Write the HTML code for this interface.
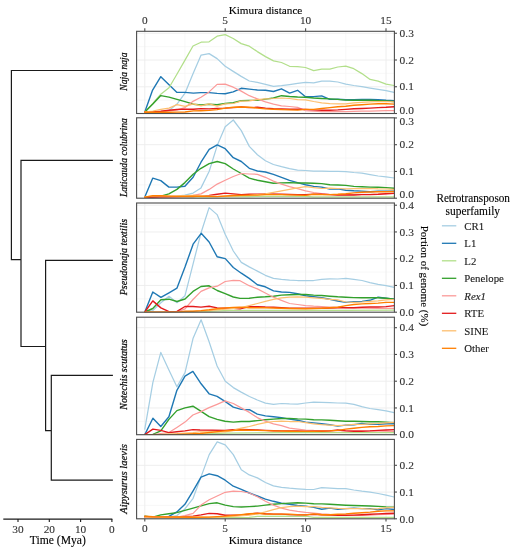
<!DOCTYPE html><html><head><meta charset="utf-8"><style>html,body{margin:0;padding:0;background:#fff;width:516px;height:550px;overflow:hidden}svg{display:block;will-change:transform}</style></head><body><svg width="516" height="550" viewBox="0 0 516 550"><defs><clipPath id="c0"><rect x="136.6" y="31.3" width="257.79999999999995" height="82.2"/></clipPath><clipPath id="c1"><rect x="136.6" y="117.8" width="257.79999999999995" height="80.39999999999999"/></clipPath><clipPath id="c2"><rect x="136.6" y="203.0" width="257.79999999999995" height="109.19999999999999"/></clipPath><clipPath id="c3"><rect x="136.6" y="317.2" width="257.79999999999995" height="117.5"/></clipPath><clipPath id="c4"><rect x="136.6" y="439.4" width="257.79999999999995" height="79.39999999999998"/></clipPath></defs><rect width="516" height="550" fill="#fff"/><path d="M185.00 31.3V113.5M265.40 31.3V113.5M345.80 31.3V113.5M136.6 100.12H394.4M136.6 73.38H394.4M136.6 46.62H394.4" stroke="#f4f4f4" stroke-width="0.6" fill="none"/><path d="M144.80 31.3V113.5M225.20 31.3V113.5M305.60 31.3V113.5M386.00 31.3V113.5M136.6 113.50H394.4M136.6 86.75H394.4M136.6 60.00H394.4M136.6 33.25H394.4" stroke="#ececec" stroke-width="0.9" fill="none"/><g clip-path="url(#c0)" fill="none" stroke-width="1.25" stroke-linejoin="round" stroke-linecap="round"><polyline points="144.8,112.0 152.8,112.0 160.8,111.7 169.0,110.5 177.0,104.1 185.0,93.2 193.0,73.7 201.1,55.1 209.1,53.6 217.1,58.6 225.2,66.3 233.2,71.4 241.2,76.4 249.3,81.0 257.3,82.3 265.5,84.4 273.5,86.4 281.5,85.7 289.6,84.6 297.6,83.4 305.5,82.3 313.7,82.8 321.7,81.1 329.8,81.1 337.8,82.0 345.8,84.1 353.8,85.5 361.9,86.7 370.1,88.1 378.1,89.3 386.1,90.7 394.1,92.3" stroke="#a6cee3" stroke-width="1.25"/><polyline points="144.8,112.0 152.6,90.1 160.8,76.7 177.0,92.4 185.0,92.4 193.4,93.1 201.0,92.6 209.1,92.6 217.1,93.4 225.2,93.7 233.2,91.9 241.2,88.3 249.3,89.1 257.3,90.0 265.5,90.3 273.5,91.5 281.5,88.8 289.6,93.1 297.6,90.3 305.5,96.8 313.7,96.6 321.7,95.9 329.8,99.4 337.8,99.2 345.8,99.8 353.8,99.8 361.9,99.4 370.1,99.4 378.1,99.8 386.1,100.3 394.1,100.6" stroke="#1f78b4" stroke-width="1.4"/><polyline points="144.8,112.0 152.8,103.5 160.8,94.2 169.0,87.8 176.9,74.3 185.0,60.1 193.0,46.0 201.1,42.2 209.1,41.8 217.1,36.2 225.2,34.6 233.2,38.5 241.2,43.6 249.3,46.2 257.3,51.6 265.5,56.6 273.5,60.9 281.5,62.5 289.6,66.3 297.6,66.6 305.5,67.5 313.7,70.6 321.7,69.2 329.8,69.2 337.8,67.0 345.8,66.1 353.8,68.7 361.9,73.6 370.1,79.4 378.1,81.1 386.1,84.1 394.1,85.5" stroke="#b2df8a" stroke-width="1.25"/><polyline points="144.8,112.0 152.8,104.1 160.8,95.6 169.0,97.1 177.0,99.4 185.0,101.7 193.4,104.2 201.0,105.0 209.1,104.2 217.1,104.7 225.2,103.5 233.2,102.7 241.2,100.8 249.3,100.4 257.3,100.4 265.5,99.1 273.5,98.0 281.5,95.7 289.6,96.5 297.6,97.0 305.5,97.2 313.7,98.0 321.7,98.5 329.8,98.9 337.8,99.4 345.8,100.1 353.8,100.3 361.9,100.3 370.1,100.3 378.1,100.6 386.1,101.0 394.1,101.5" stroke="#33a02c" stroke-width="1.4"/><polyline points="144.8,112.0 152.8,112.0 160.8,112.0 169.0,111.0 177.0,109.9 185.0,107.6 193.4,101.1 201.0,97.3 209.1,91.9 217.1,84.4 225.2,84.1 233.2,87.2 241.2,91.1 249.3,95.7 257.3,98.8 265.5,101.9 273.5,104.2 281.5,105.8 289.6,106.5 297.6,107.3 305.5,110.6 313.7,111.1 321.7,111.6 329.8,111.6 337.8,111.6 345.8,111.6 353.8,111.3 361.9,111.1 370.1,111.1 378.1,110.8 386.1,110.6 394.1,110.6" stroke="#fb9a99" stroke-width="1.25"/><polyline points="144.8,112.0 152.8,112.0 160.8,111.3 169.0,110.2 177.0,109.5 185.0,109.1 193.4,109.2 201.0,108.6 209.1,108.9 217.1,108.4 225.2,108.1 233.2,107.6 241.2,107.0 249.3,107.6 257.3,107.3 265.5,108.1 273.5,108.6 281.5,108.9 289.6,109.2 297.6,109.3 305.5,109.4 313.7,109.9 321.7,110.2 329.8,110.2 337.8,109.9 345.8,109.4 353.8,108.8 361.9,108.5 370.1,108.1 378.1,107.6 386.1,107.3 394.1,106.7" stroke="#e31a1c" stroke-width="1.4"/><polyline points="144.8,112.0 152.8,111.0 160.8,109.3 169.0,108.1 177.0,104.7 185.0,106.4 193.4,103.9 201.0,105.8 209.1,103.9 217.1,106.1 225.2,103.9 233.2,103.5 241.2,101.1 249.3,100.8 257.3,99.6 265.5,98.8 273.5,98.5 281.5,98.0 289.6,98.5 297.6,99.6 305.5,99.8 313.7,101.5 321.7,102.9 329.8,103.6 337.8,103.8 345.8,103.8 353.8,102.9 361.9,102.4 370.1,101.9 378.1,101.5 386.1,101.5 394.1,101.9" stroke="#fdbf6f" stroke-width="1.25"/><polyline points="144.8,112.2 152.8,112.2 160.8,112.2 169.0,112.2 177.0,112.1 185.0,112.0 193.4,110.9 201.0,110.7 209.1,110.4 217.1,109.6 225.2,108.1 233.2,107.3 241.2,107.0 249.3,107.3 257.3,108.1 265.5,108.9 273.5,109.3 281.5,109.6 289.6,109.9 297.6,110.1 305.5,109.4 313.7,109.4 321.7,108.5 329.8,107.6 337.8,106.7 345.8,106.2 353.8,105.3 361.9,104.7 370.1,104.1 378.1,103.8 386.1,103.8 394.1,104.1" stroke="#ff7f00" stroke-width="1.4"/></g><rect x="136.6" y="31.3" width="257.80" height="82.20" fill="none" stroke="#4d4d4d" stroke-width="1.1"/><path d="M394.4 113.50H397.0" stroke="#4d4d4d" stroke-width="1.1"/><text x="399.6" y="113.70" font-family="Liberation Serif" font-size="11.4" fill="#333" stroke="#333" stroke-width="0.12">0.0</text><path d="M394.4 86.75H397.0" stroke="#4d4d4d" stroke-width="1.1"/><text x="399.6" y="90.45" font-family="Liberation Serif" font-size="11.4" fill="#333" stroke="#333" stroke-width="0.12">0.1</text><path d="M394.4 60.00H397.0" stroke="#4d4d4d" stroke-width="1.1"/><text x="399.6" y="63.70" font-family="Liberation Serif" font-size="11.4" fill="#333" stroke="#333" stroke-width="0.12">0.2</text><path d="M394.4 33.25H397.0" stroke="#4d4d4d" stroke-width="1.1"/><text x="399.6" y="36.95" font-family="Liberation Serif" font-size="11.4" fill="#333" stroke="#333" stroke-width="0.12">0.3</text><text transform="translate(126.6 71.60) rotate(-90)" text-anchor="middle" font-family="Liberation Serif" font-style="italic" font-size="10.2" fill="#111" stroke="#111" stroke-width="0.25" textLength="38.2" lengthAdjust="spacingAndGlyphs">Naja naja</text><path d="M185.00 117.8V198.2M265.40 117.8V198.2M345.80 117.8V198.2M136.6 184.82H394.4M136.6 158.07H394.4M136.6 131.32H394.4" stroke="#f4f4f4" stroke-width="0.6" fill="none"/><path d="M144.80 117.8V198.2M225.20 117.8V198.2M305.60 117.8V198.2M386.00 117.8V198.2M136.6 198.20H394.4M136.6 171.45H394.4M136.6 144.70H394.4M136.6 117.95H394.4" stroke="#ececec" stroke-width="0.9" fill="none"/><g clip-path="url(#c1)" fill="none" stroke-width="1.25" stroke-linejoin="round" stroke-linecap="round"><polyline points="144.8,197.2 160.8,197.2 168.9,196.9 176.9,196.1 184.9,195.1 193.1,193.1 201.0,187.9 209.2,171.3 217.2,145.6 225.2,126.8 233.3,120.0 241.3,130.6 249.3,146.4 257.4,154.7 265.4,160.7 273.4,164.5 281.5,166.7 289.5,168.6 297.5,170.1 305.6,170.5 313.7,171.1 321.7,171.1 329.8,171.4 337.8,171.4 345.8,171.6 353.8,172.5 361.9,173.2 370.1,174.6 378.1,176.0 386.1,176.8 394.1,178.0" stroke="#a6cee3" stroke-width="1.25"/><polyline points="144.8,196.9 152.8,178.1 160.8,180.6 168.9,187.1 176.9,187.1 184.9,186.3 193.1,177.3 201.0,162.2 209.2,149.4 217.2,144.9 225.2,148.7 233.3,157.7 241.3,161.5 249.3,168.3 257.4,171.0 265.4,172.0 273.4,174.3 281.5,177.3 289.5,180.3 297.5,182.6 305.6,184.8 313.7,186.4 321.7,187.1 329.8,189.0 337.8,188.9 345.8,190.3 353.8,190.8 361.9,191.1 370.1,191.7 378.1,191.1 386.1,191.1 394.1,191.1" stroke="#1f78b4" stroke-width="1.4"/><polyline points="144.8,197.2 193.1,196.9 225.2,196.7 249.3,196.6 257.4,196.4 305.6,196.4 313.7,196.9 394.1,196.9" stroke="#b2df8a" stroke-width="1.25"/><polyline points="144.8,196.9 152.8,197.7 160.8,196.1 168.9,193.9 176.9,189.4 184.9,182.6 193.1,174.3 201.0,168.3 209.2,163.7 217.2,161.5 225.2,163.7 233.3,169.0 241.3,173.5 249.3,178.1 257.4,180.3 265.4,181.8 273.4,183.3 281.5,182.9 289.5,182.6 297.5,183.0 305.6,183.0 313.7,183.3 321.7,183.6 329.8,184.7 337.8,185.0 345.8,185.4 353.8,186.4 361.9,186.8 370.1,187.1 378.1,187.3 386.1,187.6 394.1,188.2" stroke="#33a02c" stroke-width="1.4"/><polyline points="144.8,197.2 176.9,196.9 184.9,196.1 193.1,195.4 201.0,193.9 209.2,189.4 217.2,184.1 225.2,180.3 233.3,176.5 241.3,173.5 249.3,174.0 257.4,174.3 265.4,177.3 273.4,181.1 281.5,184.1 289.5,186.6 297.5,188.6 305.6,190.9 313.7,192.5 321.7,193.7 329.8,194.3 337.8,194.6 345.8,194.6 353.8,194.6 361.9,194.3 370.1,194.3 378.1,194.3 386.1,193.7 394.1,193.4" stroke="#fb9a99" stroke-width="1.25"/><polyline points="144.8,197.2 160.8,196.9 176.9,196.6 193.1,196.6 201.0,196.1 209.2,195.4 217.2,194.2 225.2,193.1 233.3,193.9 241.3,194.6 249.3,194.3 257.4,194.2 265.4,193.9 281.5,194.2 297.5,194.6 305.6,194.6 313.7,194.1 321.7,194.3 329.8,194.6 337.8,195.0 345.8,195.0 353.8,195.0 361.9,194.6 370.1,194.6 378.1,194.3 386.1,193.7 394.1,193.4" stroke="#e31a1c" stroke-width="1.4"/><polyline points="144.8,196.9 152.8,196.0 160.8,195.8 168.9,196.0 176.9,195.8 184.9,195.5 193.1,195.4 217.2,196.3 233.3,195.8 249.3,195.4 257.4,194.6 265.4,193.9 273.4,192.4 281.5,190.9 289.5,189.4 297.5,187.9 305.6,186.6 313.7,187.6 321.7,188.5 329.8,188.2 337.8,188.5 345.8,188.9 353.8,188.5 361.9,188.5 370.1,188.5 378.1,188.9 386.1,189.0 394.1,189.4" stroke="#fdbf6f" stroke-width="1.25"/><polyline points="144.8,197.2 152.8,195.7 160.8,195.8 168.9,196.1 176.9,196.4 184.9,196.4 193.1,196.3 217.2,196.6 233.3,195.5 249.3,195.1 257.4,195.1 265.4,194.6 281.5,194.6 297.5,195.1 305.6,195.4 313.7,194.3 321.7,194.6 329.8,194.6 337.8,194.3 345.8,193.7 353.8,192.9 361.9,192.3 370.1,192.0 378.1,191.7 386.1,191.7 394.1,191.5" stroke="#ff7f00" stroke-width="1.4"/></g><rect x="136.6" y="117.8" width="257.80" height="80.40" fill="none" stroke="#4d4d4d" stroke-width="1.1"/><path d="M394.4 198.20H397.0" stroke="#4d4d4d" stroke-width="1.1"/><text x="399.6" y="198.40" font-family="Liberation Serif" font-size="11.4" fill="#333" stroke="#333" stroke-width="0.12">0.0</text><path d="M394.4 171.45H397.0" stroke="#4d4d4d" stroke-width="1.1"/><text x="399.6" y="175.15" font-family="Liberation Serif" font-size="11.4" fill="#333" stroke="#333" stroke-width="0.12">0.1</text><path d="M394.4 144.70H397.0" stroke="#4d4d4d" stroke-width="1.1"/><text x="399.6" y="148.40" font-family="Liberation Serif" font-size="11.4" fill="#333" stroke="#333" stroke-width="0.12">0.2</text><path d="M394.4 117.95H397.0" stroke="#4d4d4d" stroke-width="1.1"/><text x="399.6" y="124.95" font-family="Liberation Serif" font-size="11.4" fill="#333" stroke="#333" stroke-width="0.12">0.3</text><text transform="translate(126.6 157.60) rotate(-90)" text-anchor="middle" font-family="Liberation Serif" font-style="italic" font-size="10.2" fill="#111" stroke="#111" stroke-width="0.25" textLength="79" lengthAdjust="spacingAndGlyphs">Laticauda colubrina</text><path d="M185.00 203.0V312.2M265.40 203.0V312.2M345.80 203.0V312.2M136.6 298.82H394.4M136.6 272.07H394.4M136.6 245.32H394.4M136.6 218.57H394.4" stroke="#f4f4f4" stroke-width="0.6" fill="none"/><path d="M144.80 203.0V312.2M225.20 203.0V312.2M305.60 203.0V312.2M386.00 203.0V312.2M136.6 312.20H394.4M136.6 285.45H394.4M136.6 258.70H394.4M136.6 231.95H394.4M136.6 205.20H394.4" stroke="#ececec" stroke-width="0.9" fill="none"/><g clip-path="url(#c2)" fill="none" stroke-width="1.25" stroke-linejoin="round" stroke-linecap="round"><polyline points="144.8,312.0 152.8,310.6 160.9,302.7 169.0,296.3 177.0,302.7 185.0,295.7 193.1,263.8 201.2,232.2 209.1,207.6 217.1,214.6 225.3,234.4 233.3,251.0 241.3,262.4 249.2,266.9 257.4,271.1 265.3,275.3 273.5,278.4 281.4,279.4 289.6,280.1 297.5,280.5 305.7,280.5 313.6,280.5 321.6,279.4 329.7,278.8 337.7,279.0 345.9,278.4 353.8,279.4 362.0,280.5 369.9,282.6 378.1,284.3 386.0,285.7 394.4,287.4" stroke="#a6cee3" stroke-width="1.25"/><polyline points="144.8,312.0 152.8,292.0 160.9,297.4 169.0,292.8 177.0,288.1 185.0,267.1 193.1,244.2 201.2,233.3 209.1,242.0 217.1,256.7 225.3,258.6 233.3,267.5 241.3,273.2 249.2,278.4 257.4,284.7 265.3,286.8 273.5,290.9 281.4,292.0 289.6,292.4 297.5,293.7 305.7,295.7 313.6,296.8 321.6,297.8 329.7,299.3 337.7,301.0 345.9,302.4 353.8,301.8 362.0,301.4 369.9,300.3 378.1,297.2 386.0,298.3 394.4,299.3" stroke="#1f78b4" stroke-width="1.4"/><polyline points="144.8,312.2 193.0,312.0 230.0,310.4 281.4,310.4 289.6,310.4 337.7,310.4 345.9,310.4 394.4,310.2" stroke="#b2df8a" stroke-width="1.25"/><polyline points="144.8,312.0 152.8,308.5 160.9,299.8 169.0,299.2 177.0,301.5 185.0,299.0 193.0,291.4 201.0,286.5 209.1,285.8 217.2,290.5 225.2,293.7 233.3,297.0 240.0,298.4 249.2,298.3 257.4,297.2 265.3,296.8 273.5,296.2 281.4,295.1 289.6,294.7 297.5,294.5 305.7,294.5 313.6,295.1 321.6,295.5 329.7,296.2 337.7,296.8 345.9,297.2 353.8,297.6 362.0,297.8 369.9,297.8 378.1,297.8 386.0,298.3 394.4,299.3" stroke="#33a02c" stroke-width="1.4"/><polyline points="144.8,312.2 152.8,312.2 160.9,312.2 169.0,312.2 177.0,312.0 185.0,308.8 193.0,299.5 201.0,291.4 209.1,287.9 217.2,286.2 225.2,281.5 233.3,280.3 240.0,280.7 249.2,285.7 257.4,288.9 265.3,293.0 273.5,297.2 281.4,300.3 289.6,303.5 297.5,304.5 305.7,305.6 313.6,306.2 321.6,306.6 329.7,307.0 337.7,307.0 345.9,307.7 362.0,308.1 378.1,308.3 394.4,308.3" stroke="#fb9a99" stroke-width="1.25"/><polyline points="144.8,312.0 152.8,300.9 160.9,307.9 169.0,311.7 177.0,311.4 185.0,306.5 193.0,306.5 201.0,307.1 209.1,306.3 217.2,307.9 225.2,308.3 233.3,308.3 240.0,308.8 249.2,306.6 257.4,306.6 265.3,307.0 273.5,307.2 281.4,307.7 289.6,308.1 297.5,308.1 305.7,308.1 313.6,308.3 321.6,308.3 329.7,308.1 337.7,307.7 345.9,307.7 353.8,307.7 362.0,307.2 369.9,307.0 378.1,307.0 386.0,306.6 394.4,305.6" stroke="#e31a1c" stroke-width="1.4"/><polyline points="144.8,312.2 160.9,312.0 177.0,312.0 185.0,311.7 193.0,311.3 209.1,310.6 225.2,309.1 240.0,307.9 249.2,305.6 257.4,303.5 265.3,301.4 273.5,299.3 281.4,297.8 289.6,297.2 297.5,296.8 305.7,297.2 313.6,297.8 321.6,298.3 329.7,299.3 337.7,299.9 345.9,302.0 353.8,302.4 362.0,302.0 369.9,301.4 378.1,300.8 386.0,299.9 394.4,299.5" stroke="#fdbf6f" stroke-width="1.25"/><polyline points="144.8,312.2 160.9,312.2 177.0,312.2 185.0,311.2 193.0,311.2 201.0,310.6 209.1,309.8 217.2,308.8 225.2,307.9 233.3,307.4 240.0,307.1 249.2,307.7 265.3,307.7 281.4,308.3 289.6,308.5 305.7,308.7 321.6,308.3 337.7,307.2 345.9,305.6 353.8,304.5 362.0,303.9 369.9,303.5 378.1,303.1 386.0,302.4 394.4,302.4" stroke="#ff7f00" stroke-width="1.4"/></g><rect x="136.6" y="203.0" width="257.80" height="109.20" fill="none" stroke="#4d4d4d" stroke-width="1.1"/><path d="M394.4 312.20H397.0" stroke="#4d4d4d" stroke-width="1.1"/><text x="399.6" y="315.90" font-family="Liberation Serif" font-size="11.4" fill="#333" stroke="#333" stroke-width="0.12">0.0</text><path d="M394.4 285.45H397.0" stroke="#4d4d4d" stroke-width="1.1"/><text x="399.6" y="289.15" font-family="Liberation Serif" font-size="11.4" fill="#333" stroke="#333" stroke-width="0.12">0.1</text><path d="M394.4 258.70H397.0" stroke="#4d4d4d" stroke-width="1.1"/><text x="399.6" y="262.40" font-family="Liberation Serif" font-size="11.4" fill="#333" stroke="#333" stroke-width="0.12">0.2</text><path d="M394.4 231.95H397.0" stroke="#4d4d4d" stroke-width="1.1"/><text x="399.6" y="235.65" font-family="Liberation Serif" font-size="11.4" fill="#333" stroke="#333" stroke-width="0.12">0.3</text><path d="M394.4 205.20H397.0" stroke="#4d4d4d" stroke-width="1.1"/><text x="399.6" y="208.90" font-family="Liberation Serif" font-size="11.4" fill="#333" stroke="#333" stroke-width="0.12">0.4</text><text transform="translate(126.6 257.10) rotate(-90)" text-anchor="middle" font-family="Liberation Serif" font-style="italic" font-size="10.2" fill="#111" stroke="#111" stroke-width="0.25" textLength="76.4" lengthAdjust="spacingAndGlyphs">Pseudonaja textilis</text><path d="M185.00 317.2V434.7M265.40 317.2V434.7M345.80 317.2V434.7M136.6 421.32H394.4M136.6 394.57H394.4M136.6 367.82H394.4M136.6 341.07H394.4" stroke="#f4f4f4" stroke-width="0.6" fill="none"/><path d="M144.80 317.2V434.7M225.20 317.2V434.7M305.60 317.2V434.7M386.00 317.2V434.7M136.6 434.70H394.4M136.6 407.95H394.4M136.6 381.20H394.4M136.6 354.45H394.4M136.6 327.70H394.4" stroke="#ececec" stroke-width="0.9" fill="none"/><g clip-path="url(#c3)" fill="none" stroke-width="1.25" stroke-linejoin="round" stroke-linecap="round"><polyline points="144.8,429.1 152.9,382.4 160.8,352.4 168.9,370.0 176.9,386.8 185.0,372.6 193.0,338.6 201.1,319.8 209.1,341.8 217.1,366.0 225.3,381.2 233.3,387.6 241.2,392.1 249.4,396.5 257.3,400.0 265.4,403.2 273.5,404.4 281.5,403.5 289.5,403.9 297.6,404.1 305.6,403.0 313.7,402.1 321.6,402.3 329.8,402.6 337.7,403.0 345.8,403.2 353.9,404.4 361.8,406.7 369.9,408.5 378.1,409.7 386.0,410.9 394.1,412.7" stroke="#a6cee3" stroke-width="1.25"/><polyline points="144.8,434.6 152.9,418.2 160.8,426.5 168.9,416.8 176.9,390.3 185.0,376.2 192.9,371.4 201.1,383.8 209.1,393.8 217.1,396.4 225.0,401.4 233.3,407.1 241.2,409.4 249.4,409.7 257.3,414.1 265.4,415.9 273.5,416.8 281.5,417.6 289.5,419.1 297.6,420.3 305.6,422.1 313.7,422.9 321.6,423.8 329.8,424.7 337.7,426.1 345.8,425.1 353.9,424.7 361.8,423.5 369.9,424.4 378.1,424.4 386.0,423.8 394.1,423.8" stroke="#1f78b4" stroke-width="1.4"/><polyline points="144.8,434.8 200.0,434.1 225.0,433.2 281.5,432.6 289.5,432.6 337.7,432.6 345.8,432.6 394.1,432.6" stroke="#b2df8a" stroke-width="1.25"/><polyline points="144.8,434.6 152.9,434.4 160.8,430.9 168.9,419.4 176.9,410.6 185.0,407.9 192.9,406.2 200.0,410.6 209.1,416.7 217.1,419.4 225.0,421.2 233.3,422.1 241.2,421.5 249.4,421.5 257.3,420.6 265.4,419.8 273.5,419.1 281.5,418.5 289.5,418.5 297.6,418.9 305.6,419.1 313.7,419.8 321.6,419.9 329.8,420.3 337.7,420.8 345.8,421.2 353.9,421.2 361.8,421.5 369.9,421.7 378.1,421.7 386.0,422.1 394.1,422.6" stroke="#33a02c" stroke-width="1.4"/><polyline points="144.8,434.6 152.9,434.6 160.8,433.5 168.9,432.6 176.9,427.4 185.0,422.1 192.9,415.0 200.5,411.9 209.1,407.6 217.1,404.3 225.0,400.9 233.3,403.5 241.2,407.9 249.4,412.4 257.3,417.6 265.4,421.2 273.5,423.8 281.5,425.6 289.5,428.2 297.6,429.1 305.6,430.0 313.7,430.4 321.6,430.5 329.8,430.5 337.7,430.5 345.8,430.5 369.9,430.9 394.1,431.4" stroke="#fb9a99" stroke-width="1.25"/><polyline points="144.8,434.6 152.9,429.1 160.8,430.4 168.9,432.6 176.9,431.8 185.0,430.9 192.9,429.6 200.0,430.0 225.0,430.4 233.3,429.6 241.2,429.5 249.4,429.6 257.3,430.0 265.4,430.4 273.5,430.7 281.5,430.9 289.5,430.9 297.6,430.9 305.6,431.2 313.7,431.2 321.6,431.2 329.8,430.9 337.7,430.0 345.8,430.9 353.9,431.2 361.8,431.2 369.9,430.9 378.1,430.4 386.0,430.0 394.1,429.6" stroke="#e31a1c" stroke-width="1.4"/><polyline points="144.8,434.6 160.8,434.4 176.9,433.5 192.9,432.6 200.0,431.8 225.0,431.8 233.3,430.4 241.2,428.2 249.4,426.5 257.3,424.4 265.4,422.6 273.5,421.5 281.5,421.2 289.5,421.5 297.6,421.5 305.6,422.6 313.7,423.8 321.6,424.7 329.8,425.1 337.7,425.6 345.8,425.1 353.9,424.4 361.8,424.4 369.9,423.8 378.1,423.5 386.0,422.9 394.1,422.4" stroke="#fdbf6f" stroke-width="1.25"/><polyline points="144.8,434.8 176.9,434.4 200.0,433.5 225.0,430.9 241.2,430.0 257.3,430.4 273.5,430.9 289.5,431.2 297.6,431.4 313.7,431.4 329.8,430.9 337.7,430.4 345.8,429.1 353.9,428.2 361.8,427.4 369.9,426.8 378.1,426.5 386.0,425.9 394.1,425.6" stroke="#ff7f00" stroke-width="1.4"/></g><rect x="136.6" y="317.2" width="257.80" height="117.50" fill="none" stroke="#4d4d4d" stroke-width="1.1"/><path d="M394.4 434.70H397.0" stroke="#4d4d4d" stroke-width="1.1"/><text x="399.6" y="438.40" font-family="Liberation Serif" font-size="11.4" fill="#333" stroke="#333" stroke-width="0.12">0.0</text><path d="M394.4 407.95H397.0" stroke="#4d4d4d" stroke-width="1.1"/><text x="399.6" y="411.65" font-family="Liberation Serif" font-size="11.4" fill="#333" stroke="#333" stroke-width="0.12">0.1</text><path d="M394.4 381.20H397.0" stroke="#4d4d4d" stroke-width="1.1"/><text x="399.6" y="384.90" font-family="Liberation Serif" font-size="11.4" fill="#333" stroke="#333" stroke-width="0.12">0.2</text><path d="M394.4 354.45H397.0" stroke="#4d4d4d" stroke-width="1.1"/><text x="399.6" y="358.15" font-family="Liberation Serif" font-size="11.4" fill="#333" stroke="#333" stroke-width="0.12">0.3</text><path d="M394.4 327.70H397.0" stroke="#4d4d4d" stroke-width="1.1"/><text x="399.6" y="331.40" font-family="Liberation Serif" font-size="11.4" fill="#333" stroke="#333" stroke-width="0.12">0.4</text><text transform="translate(126.6 374.50) rotate(-90)" text-anchor="middle" font-family="Liberation Serif" font-style="italic" font-size="10.2" fill="#111" stroke="#111" stroke-width="0.25" textLength="70.5" lengthAdjust="spacingAndGlyphs">Notechis scutatus</text><path d="M185.00 439.4V518.8M265.40 439.4V518.8M345.80 439.4V518.8M136.6 505.42H394.4M136.6 478.67H394.4M136.6 451.92H394.4" stroke="#f4f4f4" stroke-width="0.6" fill="none"/><path d="M144.80 439.4V518.8M225.20 439.4V518.8M305.60 439.4V518.8M386.00 439.4V518.8M136.6 518.80H394.4M136.6 492.05H394.4M136.6 465.30H394.4" stroke="#ececec" stroke-width="0.9" fill="none"/><g clip-path="url(#c4)" fill="none" stroke-width="1.25" stroke-linejoin="round" stroke-linecap="round"><polyline points="144.8,517.1 160.8,517.4 168.9,517.1 176.9,515.6 184.9,508.9 193.1,498.3 201.0,476.9 209.2,454.6 217.2,441.8 225.2,444.8 233.3,454.6 241.3,469.7 249.3,474.9 257.4,477.9 265.4,482.5 273.4,485.9 281.5,487.4 289.5,488.2 297.5,488.8 305.6,489.3 313.7,489.5 321.7,487.7 329.8,488.2 337.8,488.6 345.8,488.6 353.8,490.0 361.9,491.2 370.1,492.1 378.1,493.5 386.1,495.2 394.1,497.0" stroke="#a6cee3" stroke-width="1.25"/><polyline points="144.8,516.7 152.8,517.1 160.8,517.1 168.9,516.4 176.9,511.9 184.9,504.3 193.1,490.8 201.0,477.2 209.2,473.9 217.2,475.7 225.2,480.2 233.3,486.2 241.3,489.3 249.3,493.0 257.4,496.0 265.4,499.1 273.4,501.3 281.5,503.3 289.5,504.3 297.5,505.5 305.6,506.1 313.7,507.4 321.7,509.2 329.8,508.1 337.8,509.2 345.8,508.6 353.8,508.1 361.9,508.6 370.1,508.6 378.1,509.9 386.1,508.6 394.1,509.5" stroke="#1f78b4" stroke-width="1.4"/><polyline points="144.8,517.6 193.1,517.6 209.2,517.6 249.3,517.4 257.4,516.4 305.6,516.1 313.7,517.4 394.1,517.4" stroke="#b2df8a" stroke-width="1.25"/><polyline points="144.8,516.1 152.8,517.1 160.8,514.9 168.9,513.8 176.9,512.6 184.9,510.4 193.1,508.1 201.0,505.8 209.2,503.6 217.2,502.8 225.2,505.1 233.3,506.6 241.3,507.0 249.3,506.6 257.4,506.1 265.4,505.1 273.4,504.3 281.5,503.6 289.5,503.1 297.5,502.8 305.6,503.1 313.7,503.8 321.7,503.9 329.8,504.3 337.8,504.8 345.8,505.2 353.8,505.5 361.9,505.7 370.1,506.0 378.1,506.4 386.1,506.9 394.1,507.2" stroke="#33a02c" stroke-width="1.4"/><polyline points="144.8,517.1 168.9,517.4 176.9,517.1 184.9,515.6 193.1,513.4 201.0,505.1 209.2,499.8 217.2,496.0 225.2,492.3 233.3,491.1 241.3,491.5 249.3,493.0 257.4,496.8 265.4,501.3 273.4,505.1 281.5,508.1 289.5,510.1 297.5,511.4 305.6,512.3 313.7,513.0 321.7,513.9 329.8,514.4 337.8,514.7 345.8,515.1 353.8,515.3 361.9,515.3 370.1,515.1 378.1,514.7 386.1,514.4 394.1,514.2" stroke="#fb9a99" stroke-width="1.25"/><polyline points="144.8,516.7 152.8,517.1 176.9,517.1 193.1,516.1 201.0,514.9 209.2,513.4 217.2,513.8 225.2,515.2 233.3,515.2 241.3,514.9 249.3,514.1 257.4,513.1 265.4,513.8 273.4,514.1 281.5,514.1 289.5,514.6 297.5,514.9 305.6,514.9 313.7,514.4 321.7,514.7 329.8,515.1 337.8,515.3 345.8,515.3 353.8,515.1 361.9,514.7 370.1,514.2 378.1,513.9 386.1,513.5 394.1,513.3" stroke="#e31a1c" stroke-width="1.4"/><polyline points="144.8,517.1 193.1,517.1 217.2,517.1 233.3,516.4 249.3,515.2 257.4,513.8 265.4,511.9 273.4,509.6 281.5,507.6 289.5,506.6 297.5,506.1 305.6,506.6 313.7,506.5 321.7,507.4 329.8,507.8 337.8,508.3 345.8,508.6 353.8,508.6 361.9,508.6 370.1,509.2 378.1,508.6 386.1,507.8 394.1,507.4" stroke="#fdbf6f" stroke-width="1.25"/><polyline points="144.8,516.1 152.8,516.7 193.1,517.3 209.2,517.1 225.2,516.1 241.3,514.6 249.3,513.8 257.4,513.4 265.4,514.1 273.4,514.1 281.5,514.1 289.5,514.1 297.5,514.6 305.6,514.9 313.7,513.9 321.7,514.7 329.8,514.7 337.8,514.2 345.8,513.9 353.8,513.3 361.9,512.7 370.1,512.1 378.1,511.3 386.1,510.9 394.1,510.9" stroke="#ff7f00" stroke-width="1.4"/></g><rect x="136.6" y="439.4" width="257.80" height="79.40" fill="none" stroke="#4d4d4d" stroke-width="1.1"/><path d="M394.4 518.80H397.0" stroke="#4d4d4d" stroke-width="1.1"/><text x="399.6" y="522.50" font-family="Liberation Serif" font-size="11.4" fill="#333" stroke="#333" stroke-width="0.12">0.0</text><path d="M394.4 492.05H397.0" stroke="#4d4d4d" stroke-width="1.1"/><text x="399.6" y="495.75" font-family="Liberation Serif" font-size="11.4" fill="#333" stroke="#333" stroke-width="0.12">0.1</text><path d="M394.4 465.30H397.0" stroke="#4d4d4d" stroke-width="1.1"/><text x="399.6" y="469.00" font-family="Liberation Serif" font-size="11.4" fill="#333" stroke="#333" stroke-width="0.12">0.2</text><text transform="translate(126.6 478.90) rotate(-90)" text-anchor="middle" font-family="Liberation Serif" font-style="italic" font-size="10.2" fill="#111" stroke="#111" stroke-width="0.25" textLength="69.7" lengthAdjust="spacingAndGlyphs">Aipysurus laevis</text><path d="M144.80 28.3V31.3M144.80 518.8V521.6" stroke="#4d4d4d" stroke-width="1.1"/><text x="144.80" y="24.1" text-anchor="middle" font-family="Liberation Serif" font-size="11.3" fill="#333" stroke="#333" stroke-width="0.12">0</text><text x="144.80" y="532.2" text-anchor="middle" font-family="Liberation Serif" font-size="11.3" fill="#333" stroke="#333" stroke-width="0.12">0</text><path d="M225.20 28.3V31.3M225.20 518.8V521.6" stroke="#4d4d4d" stroke-width="1.1"/><text x="225.20" y="24.1" text-anchor="middle" font-family="Liberation Serif" font-size="11.3" fill="#333" stroke="#333" stroke-width="0.12">5</text><text x="225.20" y="532.2" text-anchor="middle" font-family="Liberation Serif" font-size="11.3" fill="#333" stroke="#333" stroke-width="0.12">5</text><path d="M305.60 28.3V31.3M305.60 518.8V521.6" stroke="#4d4d4d" stroke-width="1.1"/><text x="305.60" y="24.1" text-anchor="middle" font-family="Liberation Serif" font-size="11.3" fill="#333" stroke="#333" stroke-width="0.12">10</text><text x="305.60" y="532.2" text-anchor="middle" font-family="Liberation Serif" font-size="11.3" fill="#333" stroke="#333" stroke-width="0.12">10</text><path d="M386.00 28.3V31.3M386.00 518.8V521.6" stroke="#4d4d4d" stroke-width="1.1"/><text x="386.00" y="24.1" text-anchor="middle" font-family="Liberation Serif" font-size="11.3" fill="#333" stroke="#333" stroke-width="0.12">15</text><text x="386.00" y="532.2" text-anchor="middle" font-family="Liberation Serif" font-size="11.3" fill="#333" stroke="#333" stroke-width="0.12">15</text><text x="265.5" y="14" text-anchor="middle" font-family="Liberation Serif" font-size="11.2" fill="#000" stroke="#000" stroke-width="0.12" textLength="73.7" lengthAdjust="spacingAndGlyphs">Kimura distance</text><text x="265.5" y="543.8" text-anchor="middle" font-family="Liberation Serif" font-size="11.2" fill="#000" stroke="#000" stroke-width="0.12" textLength="73.7" lengthAdjust="spacingAndGlyphs">Kimura distance</text><text transform="translate(420.6 276) rotate(90)" text-anchor="middle" font-family="Liberation Serif" font-size="11" fill="#000" stroke="#000" stroke-width="0.12" textLength="100.5" lengthAdjust="spacingAndGlyphs">Portion of genome (%)</text><text x="473.2" y="202.3" text-anchor="middle" font-family="Liberation Serif" font-size="11.8" fill="#000" stroke="#000" stroke-width="0.12" textLength="73.6" lengthAdjust="spacingAndGlyphs">Retrotransposon</text><text x="472.8" y="215.3" text-anchor="middle" font-family="Liberation Serif" font-size="11.8" fill="#000" stroke="#000" stroke-width="0.12" textLength="54.5" lengthAdjust="spacingAndGlyphs">superfamily</text><path d="M441.9 225.80H456.3" stroke="#a6cee3" stroke-width="1.3"/><text x="464.3" y="229.60" font-family="Liberation Serif" font-size="10.8" fill="#1a1a1a" stroke="#1a1a1a" stroke-width="0.12">CR1</text><path d="M441.9 243.30H456.3" stroke="#1f78b4" stroke-width="1.3"/><text x="464.3" y="247.10" font-family="Liberation Serif" font-size="10.8" fill="#1a1a1a" stroke="#1a1a1a" stroke-width="0.12">L1</text><path d="M441.9 260.80H456.3" stroke="#b2df8a" stroke-width="1.3"/><text x="464.3" y="264.60" font-family="Liberation Serif" font-size="10.8" fill="#1a1a1a" stroke="#1a1a1a" stroke-width="0.12">L2</text><path d="M441.9 278.30H456.3" stroke="#33a02c" stroke-width="1.3"/><text x="464.3" y="282.10" font-family="Liberation Serif" font-size="10.8" fill="#1a1a1a" stroke="#1a1a1a" stroke-width="0.12">Penelope</text><path d="M441.9 295.80H456.3" stroke="#fb9a99" stroke-width="1.3"/><text x="464.3" y="299.60" font-family="Liberation Serif" font-style="italic" font-size="10.8" fill="#1a1a1a" stroke="#1a1a1a" stroke-width="0.12">Rex1</text><path d="M441.9 313.30H456.3" stroke="#e31a1c" stroke-width="1.3"/><text x="464.3" y="317.10" font-family="Liberation Serif" font-size="10.8" fill="#1a1a1a" stroke="#1a1a1a" stroke-width="0.12">RTE</text><path d="M441.9 330.80H456.3" stroke="#fdbf6f" stroke-width="1.3"/><text x="464.3" y="334.60" font-family="Liberation Serif" font-size="10.8" fill="#1a1a1a" stroke="#1a1a1a" stroke-width="0.12">SINE</text><path d="M441.9 348.30H456.3" stroke="#ff7f00" stroke-width="1.3"/><text x="464.3" y="352.10" font-family="Liberation Serif" font-size="10.8" fill="#1a1a1a" stroke="#1a1a1a" stroke-width="0.12">Other</text><path d="M11.4 70.5H112.3M11.4 70.5V259.6M11.4 259.6H21M21 160.3H112.3M21 160.3V346.5M21 346.5H45.6M45.6 260.3H112.3M45.6 260.3V430.6M45.6 430.6H51.3M51.3 375.4H112.3M51.3 375.4V480.2M51.3 480.2H112.3" stroke="#1a1a1a" stroke-width="1.2" fill="none" stroke-linecap="square"/><path d="M3.3 519.1H112.3" stroke="#1a1a1a" stroke-width="1.2"/><path d="M18.00 519.1V521.9" stroke="#1a1a1a" stroke-width="1.1"/><text x="18.00" y="532.6" text-anchor="middle" font-family="Liberation Serif" font-size="11.3" fill="#333" stroke="#333" stroke-width="0.12">30</text><path d="M49.30 519.1V521.9" stroke="#1a1a1a" stroke-width="1.1"/><text x="49.30" y="532.6" text-anchor="middle" font-family="Liberation Serif" font-size="11.3" fill="#333" stroke="#333" stroke-width="0.12">20</text><path d="M80.60 519.1V521.9" stroke="#1a1a1a" stroke-width="1.1"/><text x="80.60" y="532.6" text-anchor="middle" font-family="Liberation Serif" font-size="11.3" fill="#333" stroke="#333" stroke-width="0.12">10</text><path d="M111.90 519.1V521.9" stroke="#1a1a1a" stroke-width="1.1"/><text x="111.90" y="532.6" text-anchor="middle" font-family="Liberation Serif" font-size="11.3" fill="#333" stroke="#333" stroke-width="0.12">0</text><text x="57.8" y="543.7" text-anchor="middle" font-family="Liberation Serif" font-size="11.6" fill="#000" stroke="#000" stroke-width="0.12" textLength="56" lengthAdjust="spacingAndGlyphs">Time (Mya)</text></svg></body></html>
